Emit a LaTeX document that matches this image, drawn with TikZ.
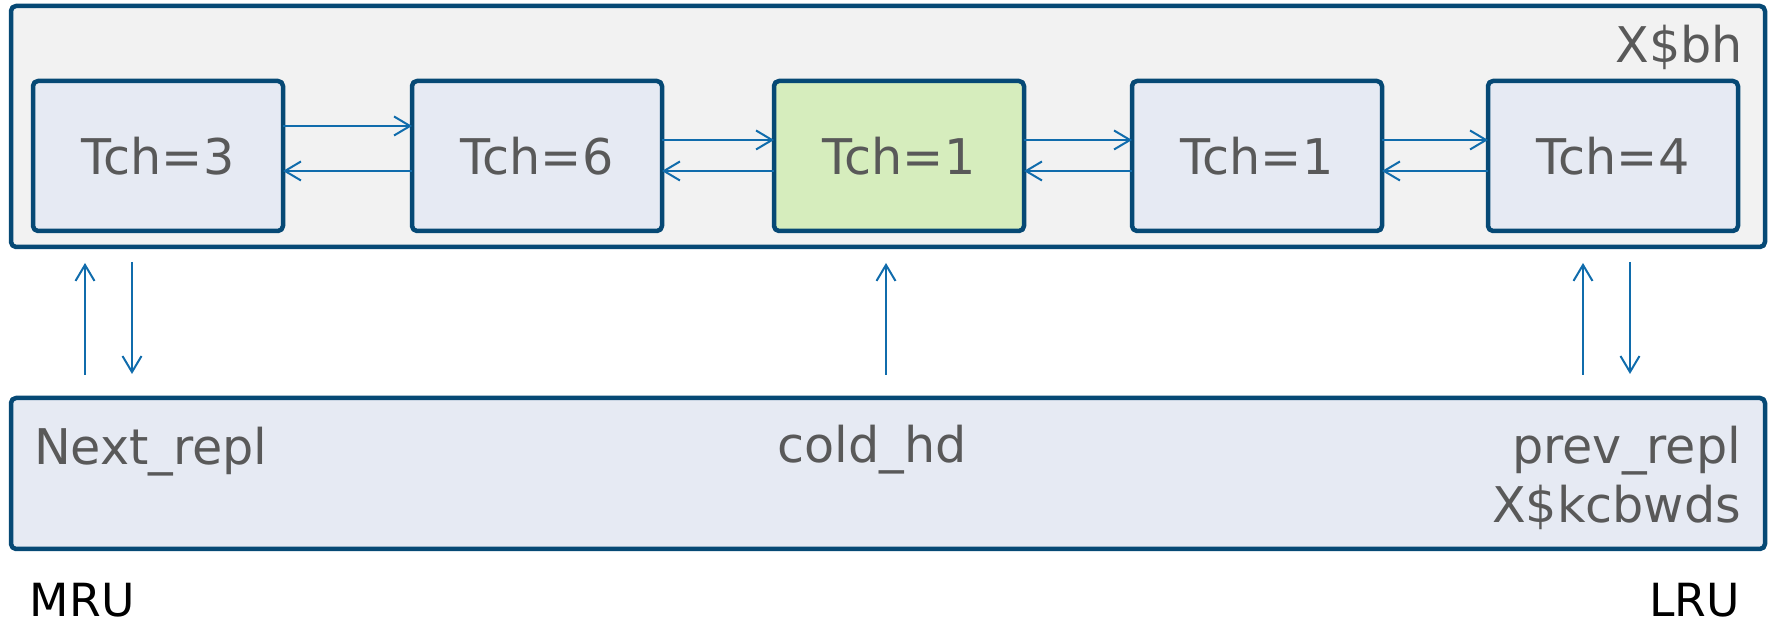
\documentclass[tikz,border=0pt]{standalone}
\usepackage{fontspec}
\setmainfont{DejaVu Sans}
\usetikzlibrary{arrows.meta}
\definecolor{frameblue}{RGB}{6,73,117}
\definecolor{linkblue}{RGB}{16,108,172}
\definecolor{cellfill}{RGB}{230,234,243}
\definecolor{hotfill}{RGB}{214,237,189}
\definecolor{panelfill}{RGB}{242,242,242}
\definecolor{labelgray}{RGB}{89,89,89}

\begin{document}
\begin{tikzpicture}[line join=round,font=\fontsize{14pt}{16.8pt}\selectfont,
  panel/.style={draw=frameblue,line width=0.45mm,rounded corners=0.5mm,inner sep=0pt,outer sep=0pt},
  cell/.style={panel,fill=cellfill,minimum width=2.5cm,minimum height=1.5cm,text=labelgray},
  lbl/.style={inner sep=0pt,outer sep=0pt,text=labelgray},
  endlbl/.style={inner sep=0pt,outer sep=0pt,font=\fontsize{13pt}{15.6pt}\selectfont},
  link/.style={draw=linkblue,line width=0.2mm,-{Straight Barb[length=1.6mm,width=1.9mm]}}]
\useasboundingbox (0,0) rectangle (17.74,6.27);
\node[panel,fill=panelfill,minimum width=17.54cm,minimum height=2.41cm] (bh) at (8.88,5.005) {};
\node[lbl,anchor=base east] (bhname) at ([xshift=-2.2mm,yshift=-5.7mm]bh.north east) {X\$bh};
\node[cell] (t1) at (1.58,4.71) {Tch=3};
\node[cell] (t2) at (5.37,4.71) {Tch=6};
\node[cell,fill=hotfill] (t3) at (8.99,4.71) {Tch=1};
\node[cell] (t4) at (12.57,4.71) {Tch=1};
\node[cell] (t5) at (16.13,4.71) {Tch=4};
\draw[link] ([yshift=3mm]t1.east) -- ([yshift=3mm]t2.west);
\draw[link] ([yshift=-1.5mm]t2.west) -- ([yshift=-1.5mm]t1.east);
\draw[link] ([yshift=1.6mm]t2.east) -- ([yshift=1.6mm]t3.west);
\draw[link] ([yshift=-1.5mm]t3.west) -- ([yshift=-1.5mm]t2.east);
\draw[link] ([yshift=1.6mm]t3.east) -- ([yshift=1.6mm]t4.west);
\draw[link] ([yshift=-1.5mm]t4.west) -- ([yshift=-1.5mm]t3.east);
\draw[link] ([yshift=1.6mm]t4.east) -- ([yshift=1.6mm]t5.west);
\draw[link] ([yshift=-1.5mm]t5.west) -- ([yshift=-1.5mm]t4.east);
\node[panel,fill=cellfill,minimum width=17.54cm,minimum height=1.51cm] (kcb) at (8.88,1.535) {};
\node[lbl,anchor=base west] (nextrepl) at ([xshift=2.3mm,yshift=-6.7mm]kcb.north west) {Next\_repl};
\node[lbl,anchor=base] (coldhd) at ([xshift=-1.6mm,yshift=-6.5mm]kcb.north) {cold\_hd};
\node[lbl,anchor=north east,align=right] (prevrepl) at ([xshift=-2.4mm,yshift=-2.8mm]kcb.north east) {prev\_repl\\X\$kcbwds};
\node[endlbl,anchor=base west] (mru) at ([xshift=1.9mm,yshift=-6.8mm]kcb.south west) {MRU};
\node[endlbl,anchor=base east] (lru) at ([xshift=-2.5mm,yshift=-6.8mm]kcb.south east) {LRU};
\draw[link,shorten <=2.3mm,shorten >=1.6mm] ([xshift=7.4mm]kcb.north west) -- ([xshift=7.4mm]bh.south west);
\draw[link,shorten <=1.5mm,shorten >=2.4mm] ([xshift=12.1mm]bh.south west) -- ([xshift=12.1mm]kcb.north west);
\draw[link,shorten <=2.3mm,shorten >=1.6mm] ([xshift=-0.2mm]kcb.north) -- ([xshift=-0.2mm]bh.south);
\draw[link,shorten <=2.3mm,shorten >=1.6mm] ([xshift=-18.2mm]kcb.north east) -- ([xshift=-18.2mm]bh.south east);
\draw[link,shorten <=1.5mm,shorten >=2.4mm] ([xshift=-13.5mm]bh.south east) -- ([xshift=-13.5mm]kcb.north east);
\end{tikzpicture}
\end{document}
